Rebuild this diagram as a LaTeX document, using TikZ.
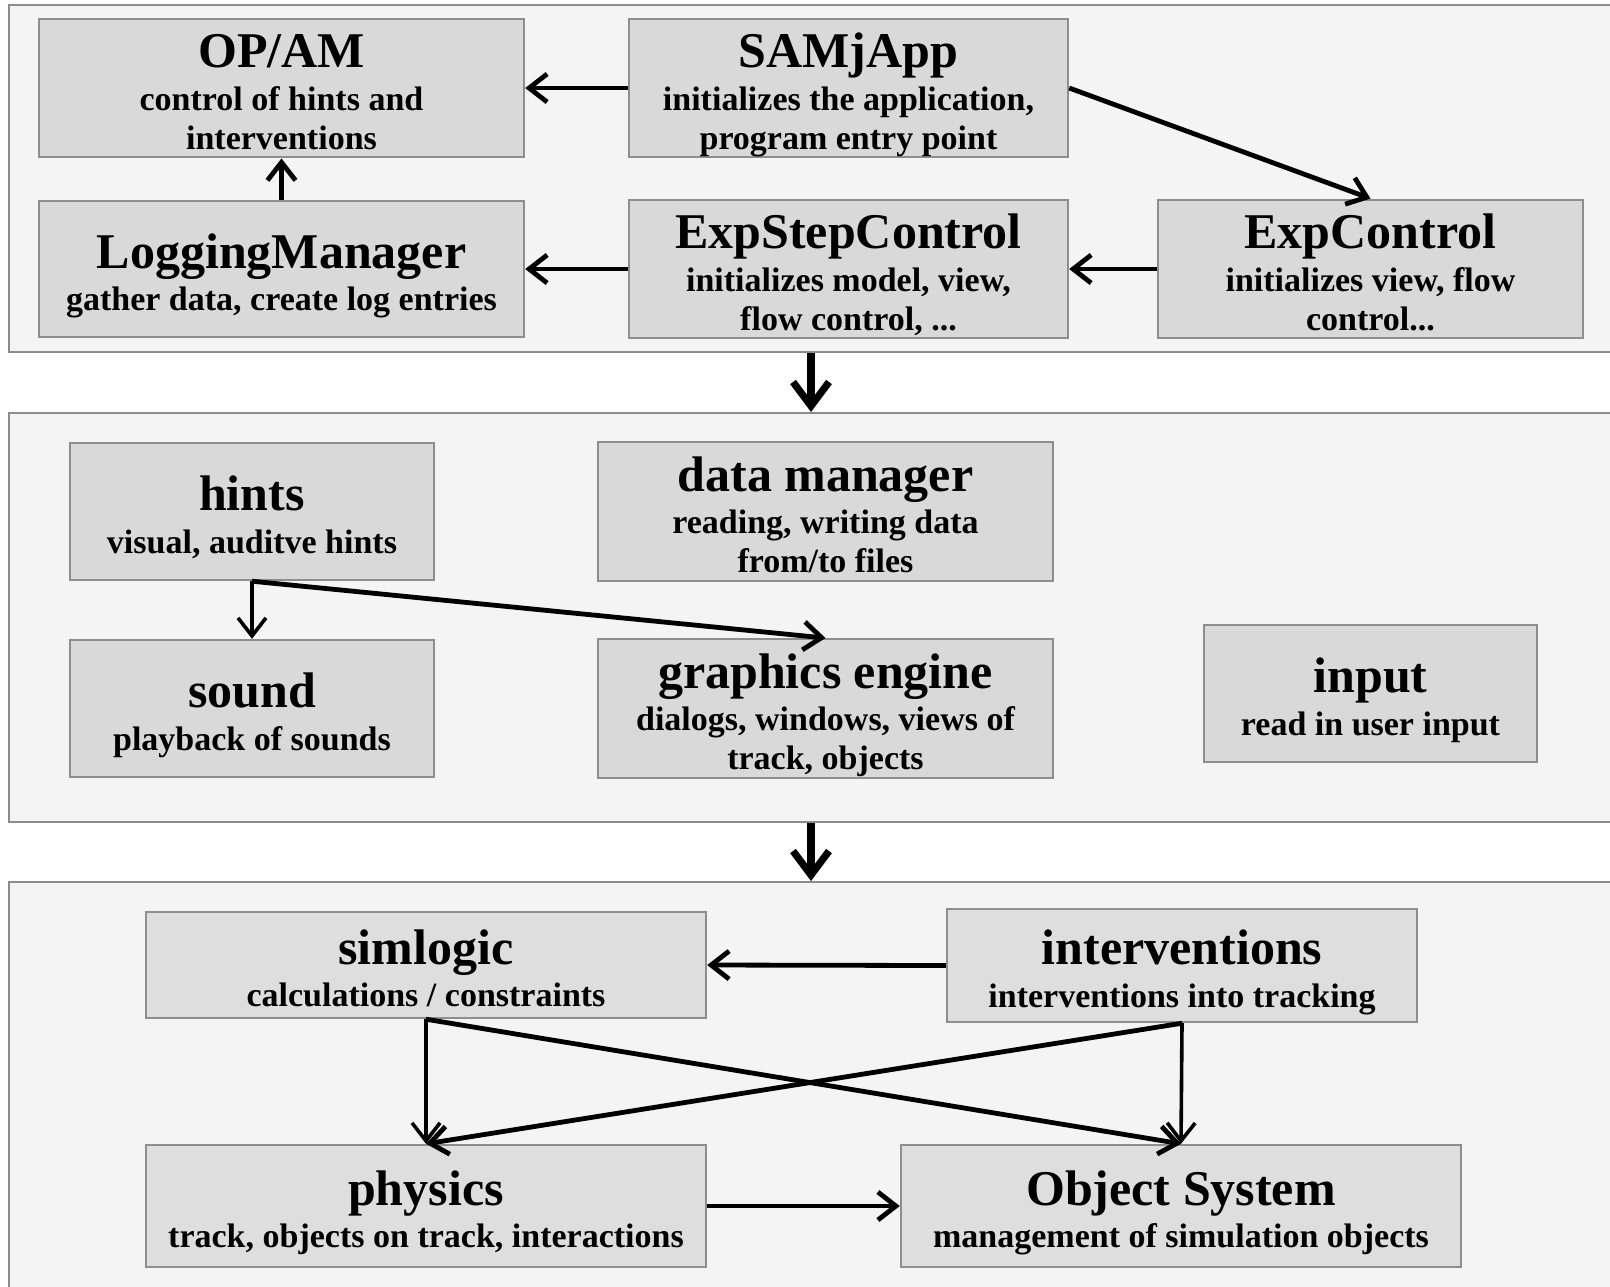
\documentclass[tikz,border=0pt]{standalone}
\usepackage{fontspec}
\setmainfont{Liberation Serif}
\usetikzlibrary{arrows.meta}

\definecolor{panelfill}{HTML}{F4F4F4}
\definecolor{panelline}{HTML}{8C8C8C}
\definecolor{boxfill}{HTML}{D9D9D9}
\definecolor{boxfilllow}{HTML}{DEDEDE}
\definecolor{boxline}{HTML}{8E8E8E}

% text of a component box: large title, then the description lines;
% struts give every box the same top and bottom text margins
\newcommand{\comptext}[2]{\rule{0pt}{24.5pt}{\fontsize{25}{20}\selectfont #1}\\[1.75pt]#2\rule[-4pt]{0pt}{4pt}}

\tikzset{
  panel/.style={rectangle, draw=panelline, fill=panelfill, line width=1pt, inner sep=0pt},
  comp/.style={rectangle, draw=boxline, fill=boxfill, line width=1.2pt, inner sep=0pt,
    align=center, font=\bfseries\fontsize{17}{19.5}\selectfont},
  complow/.style={comp, fill=boxfilllow},
  conn/.style={line width=2.4pt, -{Straight Barb[length=9pt,width=14pt]}},
  connthin/.style={line width=1.8pt, -{Straight Barb[length=9pt,width=14pt]}},
  flow/.style={line width=3.6pt, -{Straight Barb[length=12pt,width=18pt]}},
}

\begin{document}
\begin{tikzpicture}[x=0.5pt, y=-0.5pt]
\useasboundingbox (0,0) rectangle (1610,1286);
\fill[white] (0,0) rectangle (1610,1286);

% three layers
\node[panel, minimum width=802pt, minimum height=173.5pt] (p1) at (811,178.5) {};
\node[panel, minimum width=802pt, minimum height=204.5pt] (p2) at (811,617.5) {};
\node[panel, minimum width=802pt, minimum height=209pt]   (p3) at (811,1091) {};

% application layer
\node[comp, minimum width=242.5pt, minimum height=67pt] (opam) at (281.5,88)
  {\comptext{OP/AM}{control of hints and\\interventions}};
\node[comp, minimum width=219.5pt, minimum height=67pt] (samj) at (848.5,88)
  {\comptext{SAMjApp}{initializes the application,\\program entry point}};
\node[comp, minimum width=242.5pt, minimum height=68pt] (logging) at (281.5,269)
  {\comptext{LoggingManager}{gather data, create log entries}};
\node[comp, minimum width=219.5pt, minimum height=68pt] (expstep) at (848.5,269)
  {\comptext{ExpStepControl}{initializes model, view,\\flow control, ...}};
\node[comp, minimum width=212.5pt, minimum height=68pt] (expctrl) at (1370.5,269)
  {\comptext{ExpControl}{initializes view, flow\\control...}};

% presentation layer
\node[comp, minimum width=182pt, minimum height=68.5pt] (hints) at (252,511.5)
  {\comptext{hints}{visual, auditve hints}};
\node[comp, minimum width=227.5pt, minimum height=68.5pt] (datamgr) at (825.5,511.5)
  {\comptext{data manager}{reading, writing data\\from/to files}};
\node[comp, minimum width=182pt, minimum height=68.5pt] (sound) at (252,708.5)
  {\comptext{sound}{playback of sounds}};
\node[comp, minimum width=227.5pt, minimum height=68.5pt] (graphics) at (825.5,708.5)
  {\comptext{graphics engine}{dialogs, windows, views of\\track, objects}};
\node[comp, minimum width=166.5pt, minimum height=68.5pt] (input) at (1370.5,693.5)
  {\comptext{input}{read in user input}};

% simulation layer
\node[complow, minimum width=280pt, minimum height=53pt] (simlogic) at (426,965)
  {\comptext{simlogic}{calculations / constraints}};
\node[complow, minimum width=235pt, minimum height=56.5pt] (interv) at (1182,965.5)
  {\comptext{interventions}{interventions into tracking}};
\node[complow, minimum width=280pt, minimum height=61pt] (physics) at (426,1206)
  {\comptext{physics}{track, objects on track, interactions}};
\node[complow, minimum width=280pt, minimum height=61pt] (objsys) at (1181,1206)
  {\comptext{Object System}{management of simulation objects}};

% connectors
\draw[conn] (samj.west) -- (opam.east);
\draw[conn] (logging.north) -- (opam.south);
\draw[conn] (expstep.west) -- (logging.east);
\draw[conn] (expctrl.west) -- (expstep.east);
\draw[conn] (samj.east) -- (expctrl.north);

\draw[flow] (p1.south) -- (p2.north);
\draw[flow] (p2.south) -- (p3.north);

\draw[connthin] (hints.south) -- (sound.north);
\draw[conn] (hints.south) -- (graphics.north);

\draw[conn] (interv.west) -- (simlogic.east);
\draw[connthin] (simlogic.south) -- (physics.north);
\draw[conn] (simlogic.south) -- (objsys.north);
\draw[connthin] (interv.south) -- (objsys.north);
\draw[conn] (interv.south) -- (physics.north);
\draw[conn] (physics.east) -- (objsys.west);
\end{tikzpicture}
\end{document}
